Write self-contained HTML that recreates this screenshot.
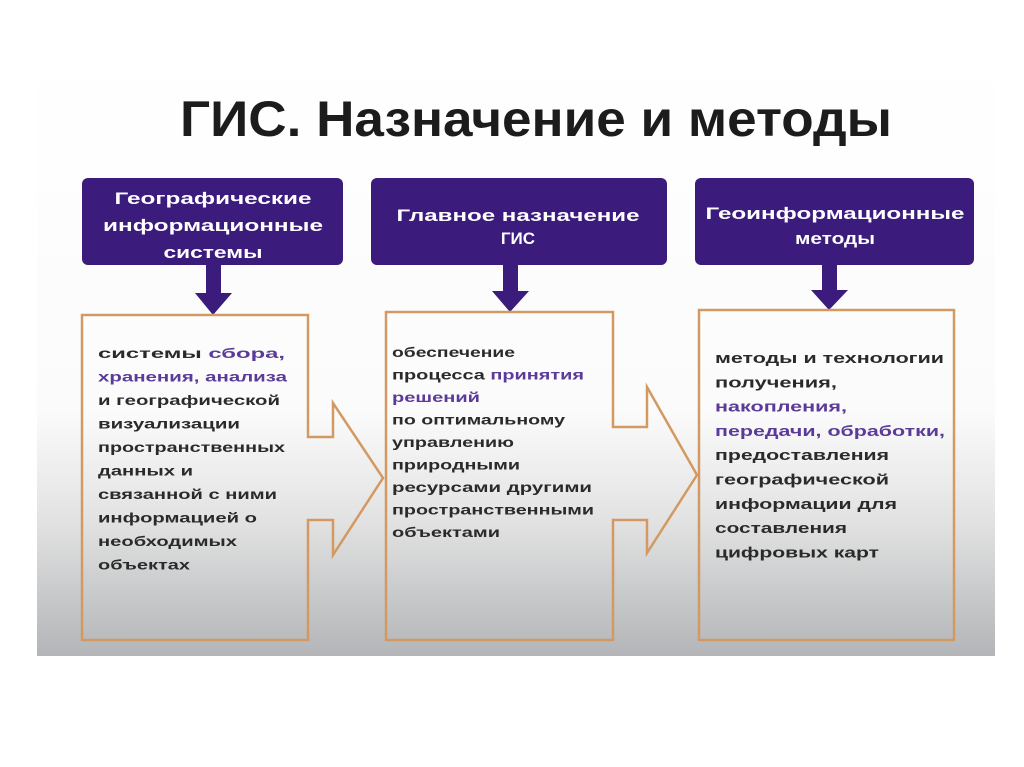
<!DOCTYPE html>
<html><head><meta charset="utf-8"><style>
html,body{margin:0;padding:0;background:#fff;}
svg{display:block;}
</style></head><body>
<svg width="1024" height="767" viewBox="0 0 1024 767" xmlns="http://www.w3.org/2000/svg">
<defs>
<linearGradient id="bg" x1="0" y1="0" x2="0" y2="1">
<stop offset="0" stop-color="#ffffff"/>
<stop offset="0.6" stop-color="#fbfbfb"/>
<stop offset="0.78" stop-color="#e2e2e2"/>
<stop offset="1" stop-color="#b3b5b8"/>
</linearGradient>
</defs>
<rect x="0" y="0" width="1024" height="767" fill="#fff"/>
<rect x="37" y="45" width="958" height="611" fill="url(#bg)"/>
<text x="180" y="136" font-family="Liberation Sans, sans-serif" font-weight="bold" font-size="50" fill="#1c1c1c" textLength="712" lengthAdjust="spacingAndGlyphs">ГИС. Назначение и методы</text>

<g fill="#3b1b7c">
<rect x="82" y="178" width="261" height="87" rx="6"/>
<rect x="371" y="178" width="296" height="87" rx="6"/>
<rect x="695" y="178" width="279" height="87" rx="6"/>
<!-- arrows -->
<rect x="206" y="264" width="15" height="30"/>
<polygon points="195,293 232,293 213,315"/>
<rect x="503" y="264" width="15" height="28"/>
<polygon points="492,291 529,291 510,312"/>
<rect x="822" y="264" width="15" height="27"/>
<polygon points="811,290 848,290 829,310"/>
</g>

<g fill="none" stroke="#d29a62" stroke-width="2.5">
<path d="M82,315 L308,315 L308,437 L333,437 L333,403 L383,478 L333,555 L333,520 L308,520 L308,640 L82,640 Z"/>
<path d="M386,312 L613,312 L613,427 L647,427 L647,387 L697,475 L647,553 L647,520 L613,520 L613,640 L386,640 Z"/>
<rect x="699" y="310" width="255" height="330"/>
</g>

<g font-family="Liberation Sans, sans-serif" font-weight="bold" font-size="17" fill="#fff" text-anchor="middle">
<text x="213" y="204" textLength="197" lengthAdjust="spacingAndGlyphs">Географические</text>
<text x="213" y="231" textLength="220" lengthAdjust="spacingAndGlyphs">информационные</text>
<text x="213" y="258" textLength="99" lengthAdjust="spacingAndGlyphs">системы</text>
<text x="518" y="221" textLength="243" lengthAdjust="spacingAndGlyphs">Главное назначение</text>
<text x="518" y="244">ГИС</text>
<text x="835" y="219" textLength="259" lengthAdjust="spacingAndGlyphs">Геоинформационные</text>
<text x="835" y="244" textLength="80" lengthAdjust="spacingAndGlyphs">методы</text>
</g>

<g font-family="Liberation Sans, sans-serif" font-weight="bold" font-size="14" fill="#2a2a2a">
<text x="98" y="358" textLength="187" lengthAdjust="spacingAndGlyphs">системы <tspan fill="#5b3b99">сбора,</tspan></text>
<text x="98" y="381.5" textLength="189" lengthAdjust="spacingAndGlyphs" fill="#5b3b99">хранения, анализа</text>
<text x="98" y="405" textLength="182" lengthAdjust="spacingAndGlyphs">и географической</text>
<text x="98" y="428.5" textLength="142" lengthAdjust="spacingAndGlyphs">визуализации</text>
<text x="98" y="452" textLength="187" lengthAdjust="spacingAndGlyphs">пространственных</text>
<text x="98" y="475.5" textLength="95" lengthAdjust="spacingAndGlyphs">данных и</text>
<text x="98" y="499" textLength="179" lengthAdjust="spacingAndGlyphs">связанной с ними</text>
<text x="98" y="522.5" textLength="159" lengthAdjust="spacingAndGlyphs">информацией о</text>
<text x="98" y="546" textLength="139" lengthAdjust="spacingAndGlyphs">необходимых</text>
<text x="98" y="569.5" textLength="92" lengthAdjust="spacingAndGlyphs">объектах</text>

<text x="392" y="357" textLength="123" lengthAdjust="spacingAndGlyphs">обеспечение</text>
<text x="392" y="379.5" textLength="192" lengthAdjust="spacingAndGlyphs">процесса <tspan fill="#5b3b99">принятия</tspan></text>
<text x="392" y="402" textLength="88" lengthAdjust="spacingAndGlyphs" fill="#5b3b99">решений</text>
<text x="392" y="424.5" textLength="173" lengthAdjust="spacingAndGlyphs">по оптимальному</text>
<text x="392" y="447" textLength="122" lengthAdjust="spacingAndGlyphs">управлению</text>
<text x="392" y="469.5" textLength="128" lengthAdjust="spacingAndGlyphs">природными</text>
<text x="392" y="492" textLength="200" lengthAdjust="spacingAndGlyphs">ресурсами другими</text>
<text x="392" y="514.5" textLength="202" lengthAdjust="spacingAndGlyphs">пространственными</text>
<text x="392" y="537" textLength="108" lengthAdjust="spacingAndGlyphs">объектами</text>
</g>

<g font-family="Liberation Sans, sans-serif" font-weight="bold" font-size="15" fill="#2a2a2a">
<text x="715" y="363" textLength="229" lengthAdjust="spacingAndGlyphs">методы и технологии</text>
<text x="715" y="387.3" textLength="122" lengthAdjust="spacingAndGlyphs">получения,</text>
<text x="715" y="411.6" textLength="132" lengthAdjust="spacingAndGlyphs" fill="#5b3b99">накопления,</text>
<text x="715" y="435.9" textLength="230" lengthAdjust="spacingAndGlyphs" fill="#5b3b99">передачи, обработки,</text>
<text x="715" y="460.2" textLength="174" lengthAdjust="spacingAndGlyphs">предоставления</text>
<text x="715" y="484.5" textLength="174" lengthAdjust="spacingAndGlyphs">географической</text>
<text x="715" y="508.8" textLength="182" lengthAdjust="spacingAndGlyphs">информации для</text>
<text x="715" y="533.1" textLength="132" lengthAdjust="spacingAndGlyphs">составления</text>
<text x="715" y="557.4" textLength="164" lengthAdjust="spacingAndGlyphs">цифровых карт</text>
</g>
</svg>
</body></html>
